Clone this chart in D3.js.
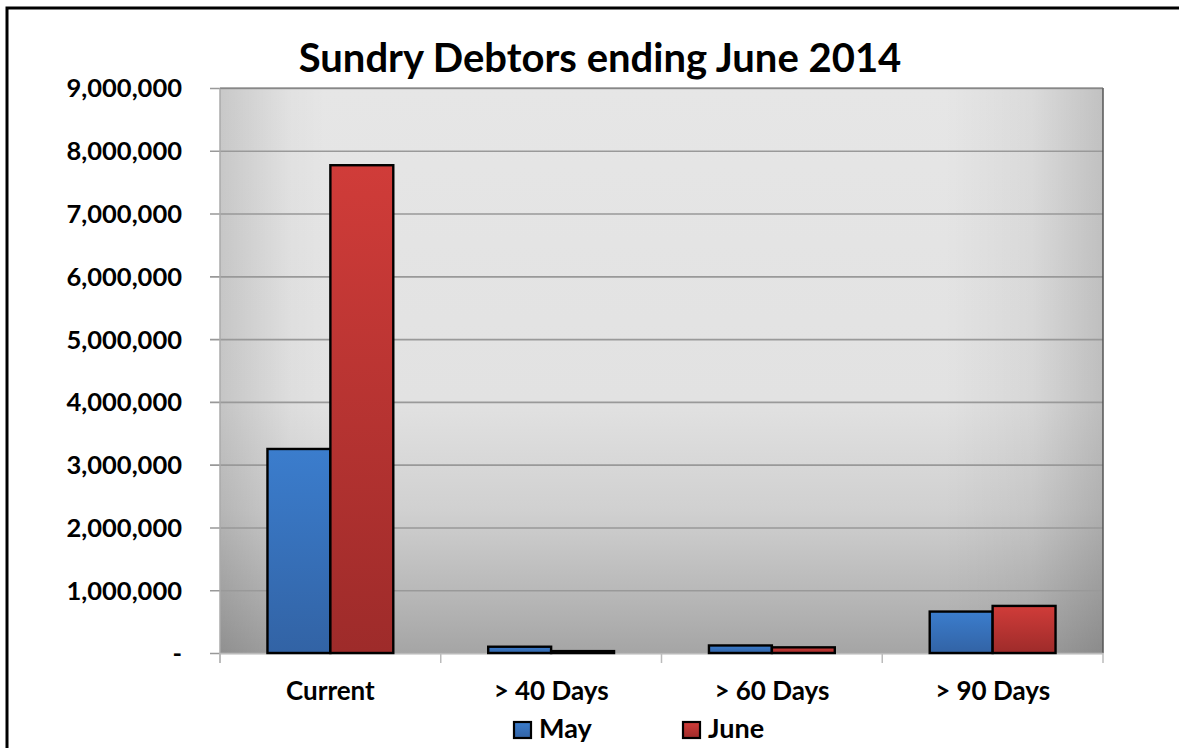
<!DOCTYPE html>
<html>
<head>
<meta charset="utf-8">
<script src="https://cdn.jsdelivr.net/npm/d3@7"></script>
<style>
  html, body { margin: 0; padding: 0; background: #fff; }
  svg { display: block; }
  text { font-family: Lato, "Open Sans", sans-serif; font-weight: 700; fill: #000; }
</style>
</head>
<body>
<svg id="chart" width="1179" height="748"></svg>
<script>
const categories = ["Current", "> 40 Days", "> 60 Days", "> 90 Days"];
const seriesNames = ["May", "June"];
const mayValues = [3250000, 100000, 120000, 660000];
const juneValues = [7770000, 30000, 90000, 750000];
const yTicks = [0, 1000000, 2000000, 3000000, 4000000, 5000000, 6000000, 7000000, 8000000, 9000000];

const svg = d3.select('#chart');
const plot = { left: 220, right: 1103, top: 88, bottom: 653 };

const defs = svg.append('defs');

// background gradients (plot area)
const bgV = defs.append('linearGradient').attr('id', 'bgV')
  .attr('x1', 0).attr('y1', 0).attr('x2', 0).attr('y2', 1);
[[0, '#e6e6e6'], [0.55, '#e2e2e2'], [0.75, '#d0d0d0'], [0.9, '#b7b7b7'], [1, '#a5a5a5']]
  .forEach(([o, c]) => bgV.append('stop').attr('offset', o).attr('stop-color', c));

const bgH = defs.append('linearGradient').attr('id', 'bgH')
  .attr('x1', 0).attr('y1', 0).attr('x2', 1).attr('y2', 0);
[[0, 0.13], [0.08, 0.02], [0.12, 0], [0.82, 0], [0.92, 0.05], [1, 0.16]]
  .forEach(([o, a]) => bgH.append('stop').attr('offset', o).attr('stop-color', '#000').attr('stop-opacity', a));

// bar gradients
const barColors = { May: ['#3b7dcd', '#3263a5'], June: ['#d03c39', '#9e2b2a'] };
seriesNames.forEach(s => {
  const g = defs.append('linearGradient').attr('id', 'grad' + s)
    .attr('x1', 0).attr('y1', 0).attr('x2', 0).attr('y2', 1);
  g.append('stop').attr('offset', 0).attr('stop-color', barColors[s][0]);
  g.append('stop').attr('offset', 1).attr('stop-color', barColors[s][1]);
});

// outer frame
svg.append('rect').attr('x', 7).attr('y', 8).attr('width', 1190).attr('height', 760)
  .attr('fill', 'none').attr('stroke', '#000').attr('stroke-width', 3);

// Scales
const x0 = d3.scaleBand().domain(categories).range([plot.left, plot.right]).paddingInner(0).paddingOuter(0);
const groupW = x0.bandwidth() * 0.57;
const x1 = d3.scaleBand().domain(seriesNames)
  .range([(x0.bandwidth() - groupW) / 2, (x0.bandwidth() + groupW) / 2]);
const y = d3.scaleLinear().domain([0, 9000000]).range([plot.bottom, plot.top]);

// plot background
svg.append('rect').attr('x', plot.left).attr('y', plot.top)
  .attr('width', plot.right - plot.left).attr('height', plot.bottom - plot.top)
  .attr('fill', 'url(#bgV)');
svg.append('rect').attr('x', plot.left).attr('y', plot.top)
  .attr('width', plot.right - plot.left).attr('height', plot.bottom - plot.top)
  .attr('fill', 'url(#bgH)');

// Y axis with gridlines
const yAxis = d3.axisLeft(y).tickValues(yTicks)
  .tickSize(plot.right - plot.left + 10)
  .tickPadding(28)
  .tickFormat(d => d === 0 ? '-    ' : d3.format(',')(d));
const yG = svg.append('g').attr('transform', `translate(${plot.right},0)`).call(yAxis);
yG.select('.domain').remove();
yG.selectAll('.tick line').attr('stroke', '#999').attr('stroke-width', 1.6);
yG.selectAll('.tick text').style('font-size', '25.5px').attr('dy', '0.35em')
  .attr('fill', '#000');

// plot edges
svg.append('line').attr('x1', plot.left).attr('x2', plot.left)
  .attr('y1', plot.top).attr('y2', plot.bottom + 10).attr('stroke', '#aaa').attr('stroke-width', 1.5);
svg.append('line').attr('x1', plot.right).attr('x2', plot.right)
  .attr('y1', plot.top).attr('y2', plot.bottom).attr('stroke', '#555').attr('stroke-width', 1.5);
svg.append('line').attr('x1', plot.left).attr('x2', plot.right)
  .attr('y1', plot.top).attr('y2', plot.top).attr('stroke', '#777').attr('stroke-width', 1.2);

// X axis
const xAxis = d3.axisBottom(x0).tickSize(0).tickPadding(0);
const xG = svg.append('g').attr('transform', `translate(0,${plot.bottom})`).call(xAxis);
xG.select('.domain').attr('stroke', '#bbb').attr('stroke-width', 1.5);
xG.selectAll('.tick text').style('font-size', '26px').attr('y', 47).attr('dy', 0);
// category boundary ticks
const bounds = categories.map(c => x0(c)).concat([plot.right]);
xG.selectAll('line.sep').data(bounds).enter().append('line')
  .attr('class', 'sep')
  .attr('x1', d => d).attr('x2', d => d).attr('y1', 0).attr('y2', 10)
  .attr('stroke', '#bbb').attr('stroke-width', 1.5);

// Bars
const rows = categories.map((c, i) => ({ cat: c, May: mayValues[i], June: juneValues[i] }));
const groups = svg.append('g').selectAll('g.grp').data(rows).enter().append('g')
  .attr('class', 'grp').attr('transform', d => `translate(${x0(d.cat)},0)`);
groups.selectAll('rect').data(d => seriesNames.map(s => ({ s, v: d[s] }))).enter().append('rect')
  .attr('x', d => x1(d.s))
  .attr('y', d => y(d.v))
  .attr('width', x1.bandwidth())
  .attr('height', d => y(0) - y(d.v))
  .attr('fill', d => `url(#grad${d.s})`)
  .attr('stroke', '#000').attr('stroke-width', 2.4);

// Title
svg.append('text').attr('x', 600).attr('y', 72).attr('text-anchor', 'middle')
  .style('font-size', '40px').text('Sundry Debtors ending June 2014');

// Legend
const legendPos = { May: 514, June: 683 };
const leg = svg.append('g').selectAll('g.leg').data(seriesNames).enter().append('g')
  .attr('class', 'leg').attr('transform', d => `translate(${legendPos[d]},722)`);
leg.append('rect').attr('width', 17).attr('height', 16)
  .attr('fill', d => `url(#grad${d})`).attr('stroke', '#000').attr('stroke-width', 2.2);
leg.append('text').attr('x', 25).attr('y', 16).style('font-size', '27px').text(d => d);
</script>
</body>
</html>
